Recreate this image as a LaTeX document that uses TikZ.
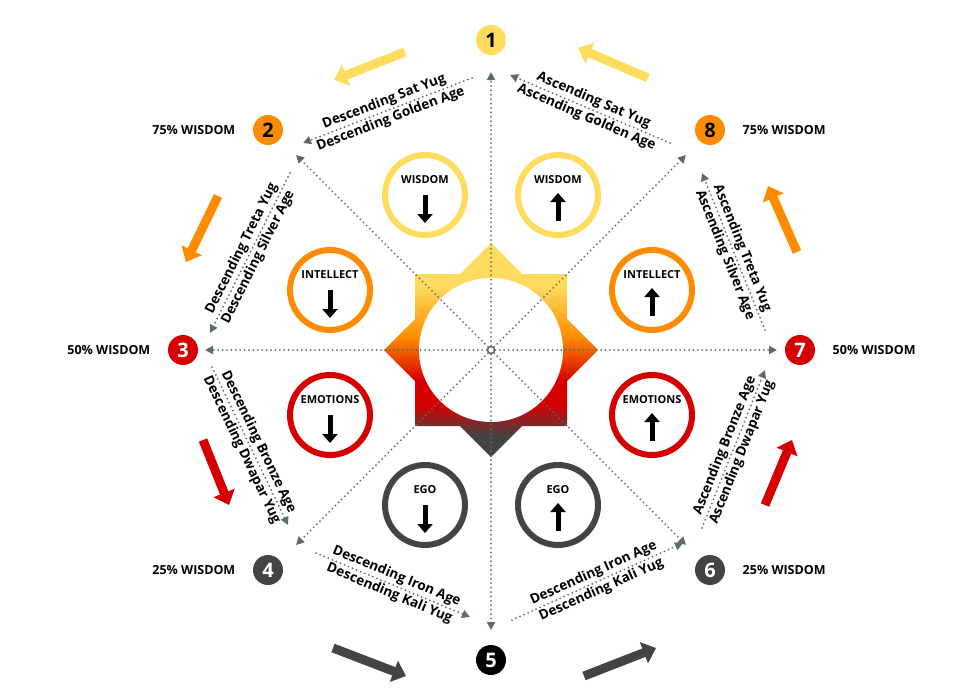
\documentclass[tikz,border=0pt]{standalone}
\usepackage{fontspec}
\setmainfont{Open Sans}
\usetikzlibrary{
  arrows.meta,
  positioning,  % Function "of"
}
\definecolor{cyellow}{HTML}{FFDC5E}
\definecolor{corange}{HTML}{FF8C00}
\definecolor{cred}{HTML}{D50000}
\definecolor{cdark}{HTML}{444444}
\definecolor{cdots}{HTML}{5A6B73}
\pgfdeclareverticalshading{sunshade}{100bp}{
  color(0bp)=(cdark); color(30bp)=(cdark); color(37bp)=(cred);
  color(43bp)=(cred); color(53bp)=(corange); color(65bp)=(cyellow);
  color(100bp)=(cyellow)}
\tikzset{
  semithick,
  my num/.style={
    circle,
    minimum size=30pt,
    inner sep=0pt,
    font=\bfseries\fontsize{20}{20}\selectfont
  },
  my ring/.style={
    circle,
    draw=#1,
    line width=6pt,
    fill=white,
    minimum size=80pt
  },
  my dots/.style={
    draw=cdots,
    line width=2pt,
    dash pattern=on 0pt off 4.4pt,
    line cap=round,
    -{Triangle[length=8pt,width=8pt,fill=cdots]}
  },
  big arrow/.style={
    draw=#1,
    line width=9pt,
    -{Triangle[length=13pt,width=22pt,fill=#1]}
  },
  my label/.style={
    font=\bfseries\fontsize{13.5}{13.5}\selectfont,
    inner sep=1.5pt,
    sloped
  },
  my pct/.style={
    font=\bfseries\fontsize{12.5}{12.5}\selectfont
  }
}

\begin{document}
\begin{tikzpicture}[x=1pt,y=-1pt]
\useasboundingbox (0,0) rectangle (980,699);
% center star
\coordinate (c) at (491,350);
\shade[shading=sunshade]
  (415,274) -- (567,274) -- (567,426) -- (415,426) -- cycle
  (491,243) -- (598,350) -- (491,457) -- (384,350) -- cycle;
\fill[white] (c) circle[radius=72];
% spokes
\foreach \p in {(491,72),(296,155),(205,350),(296,545),(491,630),(686,545),(777,350),(686,155)}
  \draw[my dots] (c) -- \p;
\draw[cdots,line width=1.5pt,fill=white] (c) circle[radius=3.5];
% numbered nodes
\node[my num,fill=cyellow]          (n1) at (491,40)  {1};
\node[my num,fill=corange]          (n2) at (268,130) {2};
\node[my num,fill=cred,text=white]  (n3) at (183,350) {3};
\node[my num,fill=cdark,text=white] (n4) at (268,570) {4};
\node[my num,fill=black,text=white] (n5) at (491,660) {5};
\node[my num,fill=cdark,text=white] (n6) at (710,570) {6};
\node[my num,fill=cred,text=white]  (n7) at (800,350) {7};
\node[my num,fill=corange]          (n8) at (710,130) {8};
\node[my pct,left=14pt of n2]  {75\% WISDOM};
\node[my pct,left=14pt of n3]  {50\% WISDOM};
\node[my pct,left=14pt of n4]  {25\% WISDOM};
\node[my pct,right=14pt of n6] {25\% WISDOM};
\node[my pct,right=14pt of n7] {50\% WISDOM};
\node[my pct,right=14pt of n8] {75\% WISDOM};
% edges
\coordinate (a1) at (472,78);  \coordinate (a2) at (303,143);
\coordinate (b1) at (290,173); \coordinate (b2) at (210,333);
\coordinate (d1) at (212,367); \coordinate (d2) at (288,525);
\coordinate (e1) at (316,553); \coordinate (e2) at (470,617);
\coordinate (f1) at (512,620); \coordinate (f2) at (683,543);
\coordinate (g1) at (702,528); \coordinate (g2) at (765,370);
\coordinate (h1) at (765,330); \coordinate (h2) at (702,173);
\coordinate (k1) at (670,143); \coordinate (k2) at (510,75);
\draw[my dots] (a1) -- node[my label,above]{Descending Sat Yug}
  node[my label,below]{Descending Golden Age} (a2);
\draw[my dots] (b1) -- node[my label,above]{Descending Treta Yug}
  node[my label,below]{Descending Silver Age} (b2);
\draw[my dots] (d1) -- node[my label,above]{Descending Bronze Age}
  node[my label,below]{Descending Dwapar Yug} (d2);
\draw[my dots] (e1) -- node[my label,above]{Descending Iron Age}
  node[my label,below]{Descending Kali Yug} (e2);
\draw[my dots] (f1) -- node[my label,above]{Descending Iron Age}
  node[my label,below]{Descending Kali Yug} (f2);
\draw[my dots] (g1) -- node[my label,above]{Ascending Bronze Age}
  node[my label,below]{Ascending Dwapar Yug} (g2);
\draw[my dots] (h1) -- node[my label,below]{Ascending Silver Age}
  node[my label,above]{Ascending Treta Yug} (h2);
\draw[my dots] (k1) -- node[my label,above]{Ascending Sat Yug}
  node[my label,below]{Ascending Golden Age} (k2);
% big arrows
\coordinate (ya1) at (405,52);  \coordinate (ya2) at (334,80);
\coordinate (yb1) at (648,78);  \coordinate (yb2) at (578,48);
\coordinate (oa1) at (218,196); \coordinate (oa2) at (186,262);
\coordinate (ob1) at (797,252); \coordinate (ob2) at (768,186);
\coordinate (ra1) at (203,440); \coordinate (ra2) at (229,505);
\coordinate (rb1) at (765,505); \coordinate (rb2) at (792,440);
\coordinate (da1) at (333,648); \coordinate (da2) at (406,676);
\coordinate (db1) at (584,676); \coordinate (db2) at (656,648);
\draw[big arrow=cyellow] (ya1) -- (ya2);
\draw[big arrow=cyellow] (yb1) -- (yb2);
\draw[big arrow=corange] (oa1) -- (oa2);
\draw[big arrow=corange] (ob1) -- (ob2);
\draw[big arrow=cred]    (ra1) -- (ra2);
\draw[big arrow=cred]    (rb1) -- (rb2);
\draw[big arrow=cdark]   (da1) -- (da2);
\draw[big arrow=cdark]   (db1) -- (db2);
% rings
\foreach \x/\y/\c/\t/\s in {425/195/cyellow/WISDOM/1, 558/195/cyellow/WISDOM/-1,
    330/290/corange/INTELLECT/1, 652/290/corange/INTELLECT/-1,
    330/415/cred/EMOTIONS/1, 652/415/cred/EMOTIONS/-1,
    425/505/cdark/EGO/1, 558/505/cdark/EGO/-1}{
  \node[my ring=\c] (r-\x-\y) at (\x,\y) {};
  \node[font=\bfseries\fontsize{11}{11}\selectfont] at (\x,\y-15) {\t};
  \draw[line width=5pt,-{Triangle[length=9pt,width=15pt]}]
    (\x,\y+13-13*\s) -- (\x,\y+13+15*\s);
}
\end{tikzpicture}
\end{document}
